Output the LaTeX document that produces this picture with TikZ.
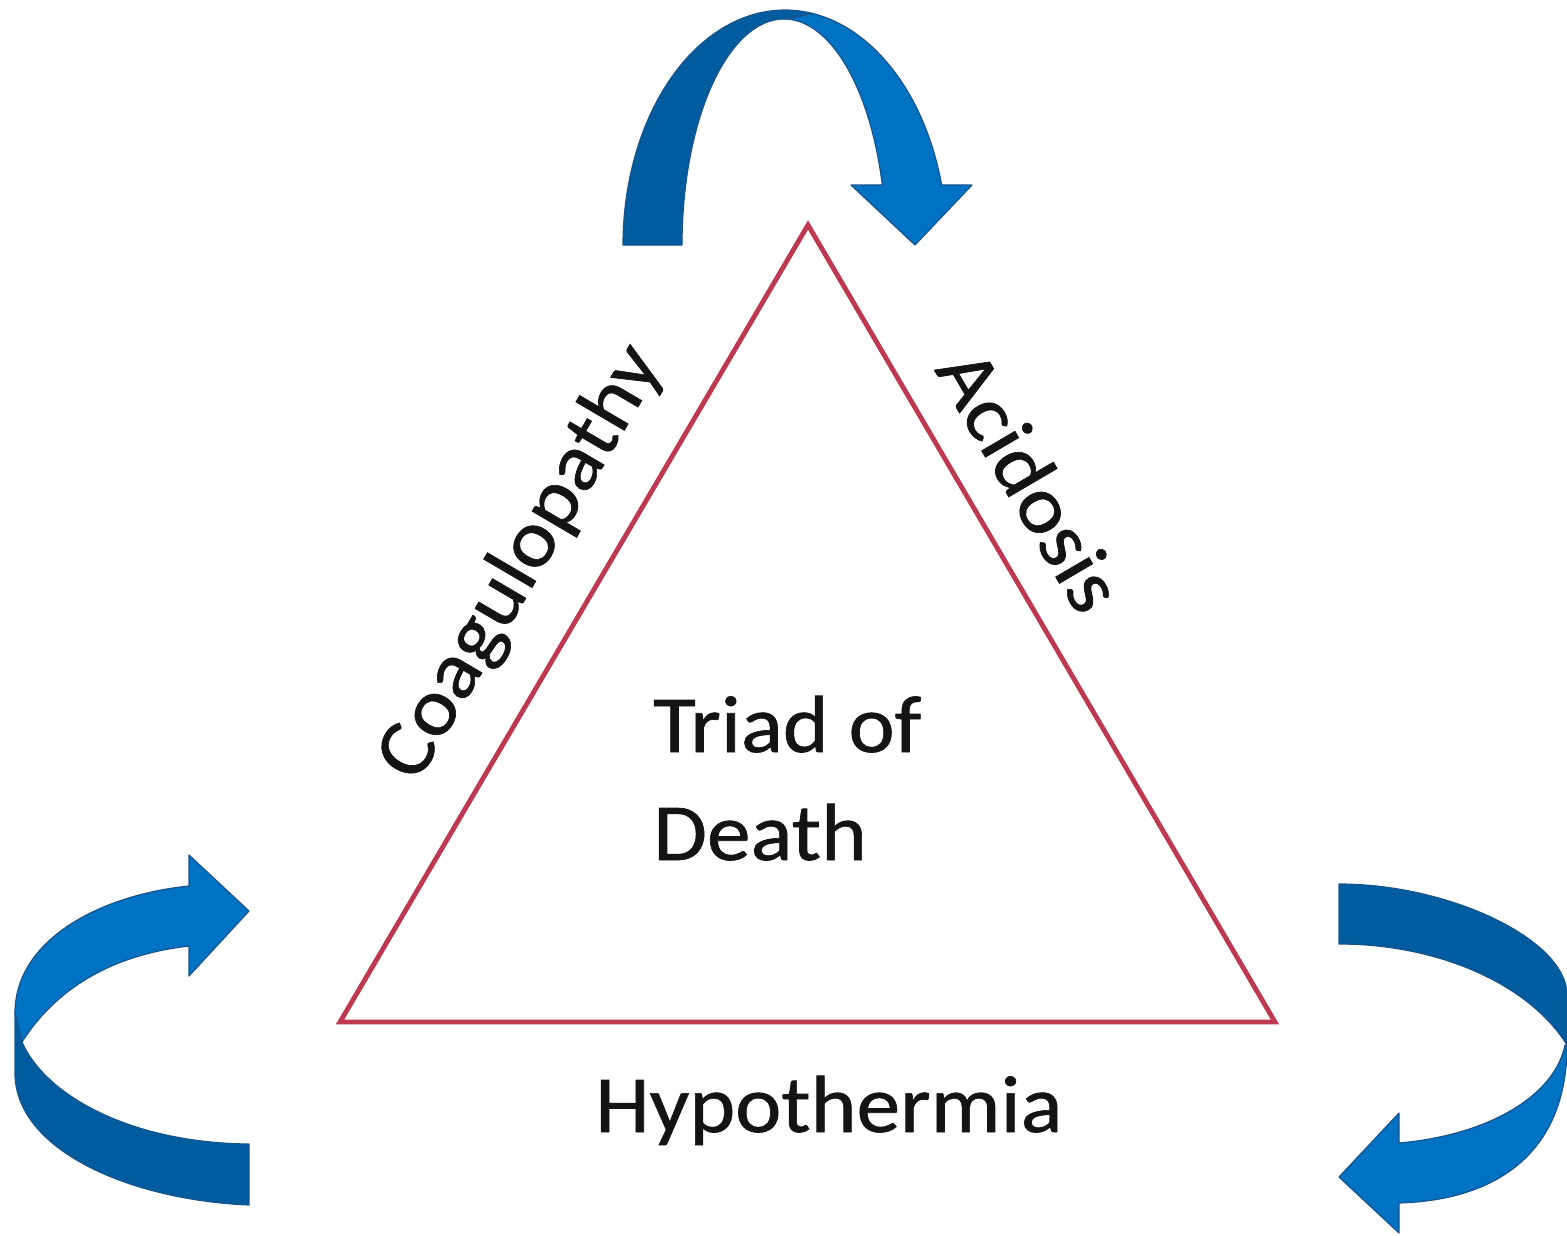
\documentclass[tikz,border=0pt]{standalone}
\usepackage{fontspec}
\setmainfont{Carlito}[FakeStretch=1.08,FakeBold=0.8]
\definecolor{tri}{RGB}{190,56,80}
\definecolor{bandlight}{RGB}{0,114,196}
\definecolor{banddark}{RGB}{0,92,158}
\definecolor{bandline}{RGB}{24,84,140}
\begin{document}
\begin{tikzpicture}[x=1pt,y=-1pt,
  lbl/.style={inner sep=0pt,font=\fontsize{81}{97}\selectfont,text=black!92},
  lightband/.style={fill=bandlight,draw=bandline,line width=1.2pt,line join=round},
  darkband/.style={fill=banddark,draw=bandline,line width=1.2pt,line join=round},
  triline/.style={draw=tri,line width=4.8pt,line join=miter}]
\useasboundingbox (0,0) rectangle (1567,1235);
% triangle
\coordinate (A) at (808,225);
\coordinate (B) at (340,1022);
\coordinate (C) at (1275,1022);
\draw[triline] (A) -- (B) -- (C) -- cycle;
% labels
\node[lbl,anchor=base west] (t1) at (653,752) {Triad of};
\node[lbl,anchor=base west] (t2) at (653,860) {Death};
\node[lbl,anchor=base west] (hyp) at (595,1132) {Hypothermia};
\node[lbl,rotate=59.6] (coa) at (522,563) {Coagulopathy};
\node[lbl,rotate=-59.6] (aci) at (1031,480) {Acidosis};
% top arrow
\draw[darkband] plot[domain=180:280,samples=60] ({785+162*cos(\x)},{245+235*sin(\x)})
  -- plot[domain=270:180,samples=60] ({784+102*cos(\x)},{245+226*sin(\x)}) -- cycle;
\draw[lightband] plot[domain=280:345.2,samples=60] ({785+162*cos(\x)},{245+235*sin(\x)})
  -- (972,185) -- (915,245) -- (851,185)
  -- plot[domain=344.6:270,samples=60] ({784+102*cos(\x)},{245+226*sin(\x)}) -- cycle;
% left arrow
\draw[darkband] (15,1013) -- (15,1073) .. controls (15,1150) and (130,1200) .. (249,1205)
  -- (249,1144) .. controls (130,1143) and (45,1095) .. (22,1042) -- cycle;
\draw[lightband] (15,1013) .. controls (15,940) and (100,895) .. (189,886)
  -- (189,855) -- (249,911) -- (189,976) -- (189,946)
  .. controls (110,955) and (55,990) .. (22,1042) -- cycle;
% right arrow
\draw[darkband] (1339,884) .. controls (1450,884) and (1567,940) .. (1567,995)
  -- (1567,1045) .. controls (1530,985) and (1440,944) .. (1339,944) -- cycle;
\draw[lightband] (1567,1045) .. controls (1567,1150) and (1500,1200) .. (1399,1203)
  -- (1399,1233) -- (1339,1177) -- (1399,1113) -- (1399,1143)
  .. controls (1490,1135) and (1555,1095) .. (1565,1045) -- cycle;
\end{tikzpicture}
\end{document}
